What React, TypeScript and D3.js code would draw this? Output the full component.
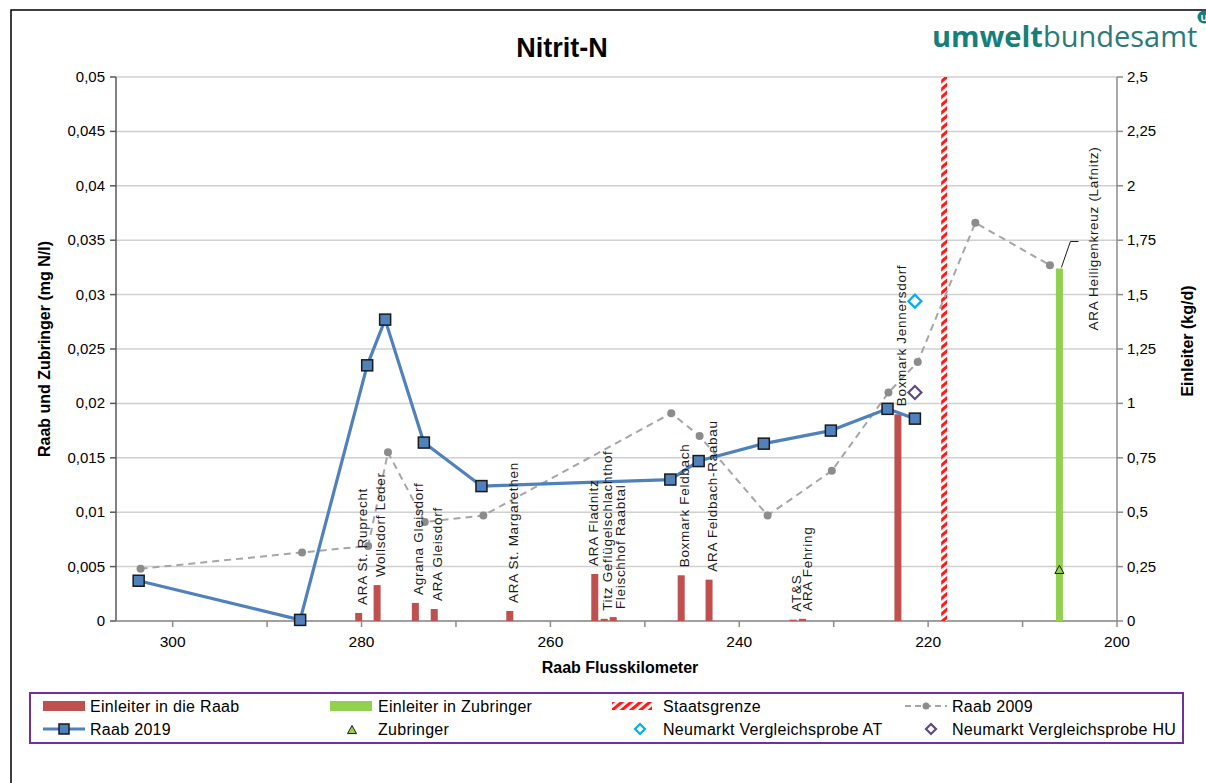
import React from "react";
import * as d3 from "d3";

// Raab 2019 measurements (river km, mg N/l)
const raab2019Km = [303.6, 286.5, 279.4, 277.5, 273.4, 267.3, 247.3, 244.3, 237.4, 230.3, 224.3, 221.4];
const raab2019Val = [0.0037, 0.0001, 0.0235, 0.0277, 0.0164, 0.0124, 0.013, 0.0147, 0.0163, 0.0175, 0.0195, 0.0186];

// Raab 2009 measurements (river km, mg N/l)
const raab2009Km = [303.4, 286.3, 279.3, 277.2, 273.3, 267.1, 247.2, 244.2, 237.0, 230.2, 224.2, 221.1, 215.0, 207.1];
const raab2009Val = [0.0048, 0.0063, 0.0069, 0.0155, 0.0091, 0.0097, 0.0191, 0.017, 0.0097, 0.0138, 0.021, 0.0238, 0.0366, 0.0327];

// Discharges into the Raab (river km, kg/d)
const dischargeNames = [
  "ARA St. Ruprecht",
  "Wollsdorf Leder",
  "Agrana Gleisdorf",
  "ARA Gleisdorf",
  "ARA St. Margarethen",
  "ARA Fladnitz",
  "Titz Geflügelschlachthof",
  "Fleischhof Raabtal",
  "Boxmark Feldbach",
  "ARA Feldbach-Raabau",
  "AT&S",
  "ARA Fehring",
  "Boxmark Jennersdorf",
];
const dischargeKm = [280.3, 278.35, 274.3, 272.3, 264.3, 255.3, 254.3, 253.35, 246.15, 243.2, 234.3, 233.3, 223.2];
const dischargeLoad = [0.037, 0.165, 0.083, 0.055, 0.046, 0.216, 0.01, 0.018, 0.21, 0.19, 0.006, 0.01, 0.95];

// Discharge into a tributary
const tributaryDischargeName = "ARA Heiligenkreuz (Lafnitz)";
const tributaryDischargeKm = 206.1;
const tributaryDischargeLoad = 1.62;

// Tributary concentration (mg N/l)
const tributaryKm = 206.1;
const tributaryVal = 0.0047;

// Neumarkt comparison samples (mg N/l)
const neumarktKm = 221.4;
const neumarktAT = 0.0294;
const neumarktHU = 0.021;

// State border (river km)
const borderKm = 218.3;

const leftTicks = [0, 0.005, 0.01, 0.015, 0.02, 0.025, 0.03, 0.035, 0.04, 0.045, 0.05];
const rightTicks = [0, 0.25, 0.5, 0.75, 1, 1.25, 1.5, 1.75, 2, 2.25, 2.5];
const xMajorTicks = [300, 280, 260, 240, 220, 200];
const xMinorTicks = [300, 290, 280, 270, 260, 250, 240, 230, 220, 210, 200];

const W = 1206;
const H = 783;
const FONT = "'Liberation Sans', Arial, sans-serif";

const fmt = (v: number) => String(v).replace(".", ",");

export default function App() {
  const left = 116;
  const right = 1117;
  const top = 77;
  const bottom = 621;

  const x = d3.scaleLinear().domain([306, 200]).range([left, right]);
  const yL = d3.scaleLinear().domain([0, 0.05]).range([bottom, top]);
  const yR = d3.scaleLinear().domain([0, 2.5]).range([bottom, top]);

  const line2019 = d3
    .line<number>()
    .x((_, i) => x(raab2019Km[i]))
    .y((d) => yL(d));
  const line2009 = d3
    .line<number>()
    .x((_, i) => x(raab2009Km[i]))
    .y((d) => yL(d));

  const barW = 7;
  const labelFs = 13.5;
  const labelLs = 0.7;
  // small horizontal nudges so crowded labels stay readable
  const labelNudge: Record<string, number> = {
    "ARA Fladnitz": -5,
    "Fleischhof Raabtal": 4,
    "ARA Fehring": 2,
  };

  const diamond = (cx: number, cy: number, r: number) =>
    `M${cx},${cy - r}L${cx + r},${cy}L${cx},${cy + r}L${cx - r},${cy}Z`;
  const triangle = (cx: number, cy: number, r: number) =>
    `M${cx},${cy - r}L${cx + r},${cy + r * 0.8}L${cx - r},${cy + r * 0.8}Z`;

  const gbx = x(tributaryDischargeKm);
  const gby = yR(tributaryDischargeLoad);

  // legend layout
  const legCols = [35, 330, 612, 905];
  const legRows = [706, 729];

  return (
    <svg
      width={W}
      height={H}
      style={{ position: "absolute", left: 0, top: 0, background: "#fff" }}
      fontFamily={FONT}
    >
      <defs>
        <pattern id="hatch" width="6" height="6" patternUnits="userSpaceOnUse" patternTransform="rotate(-40)">
          <rect width="6" height="6" fill="#ffffff" />
          <rect width="6" height="3.2" fill="#ff1a1a" />
        </pattern>
      </defs>

      {/* chart frame */}
      <path d={`M11,${H}V10H${W}`} fill="none" stroke="#000" strokeWidth={1.5} />

      {/* title */}
      <text
        x={562}
        y={57}
        textAnchor="middle"
        fontSize={27}
        fontWeight="bold"
        fontFamily="'Liberation Sans Narrow', 'Arial Narrow', 'Liberation Sans', sans-serif"
        fill="#000"
      >
        Nitrit-N
      </text>

      {/* logo */}
      <text x={932} y={47} fontFamily="'Open Sans', sans-serif" fontSize={29} fill="#167f7a">
        <tspan fontWeight="bold">umwelt</tspan>
        <tspan fill="#2b7a76">bundesamt</tspan>
      </text>
      <circle cx={1204} cy={17} r={6.5} fill="#167f7a" />
      <text x={1204} y={20.5} fontSize={9} fontWeight="bold" fill="#fff" textAnchor="middle">
        U
      </text>

      {/* gridlines */}
      {leftTicks.map((t) => (
        <line key={"g" + t} x1={left} x2={right} y1={yL(t)} y2={yL(t)} stroke="#d0d0d0" strokeWidth={1.5} />
      ))}

      {/* axes */}
      <line x1={left} x2={left} y1={top} y2={bottom} stroke="#595959" strokeWidth={1.5} />
      <line x1={right} x2={right} y1={top} y2={bottom} stroke="#8c8c8c" strokeWidth={1.5} />
      <line x1={left} x2={right} y1={bottom} y2={bottom} stroke="#8c8c8c" strokeWidth={1.5} />

      {leftTicks.map((t) => (
        <g key={"l" + t}>
          <line x1={left - 6} x2={left} y1={yL(t)} y2={yL(t)} stroke="#595959" strokeWidth={1.5} />
          <text x={left - 11} y={yL(t) + 5} textAnchor="end" fontSize={15} fill="#000">
            {fmt(t)}
          </text>
        </g>
      ))}
      {rightTicks.map((t) => (
        <g key={"r" + t}>
          <line x1={right} x2={right + 6} y1={yR(t)} y2={yR(t)} stroke="#8c8c8c" strokeWidth={1.5} />
          <text x={right + 10} y={yR(t) + 5} textAnchor="start" fontSize={15} fill="#000">
            {fmt(t)}
          </text>
        </g>
      ))}
      {xMinorTicks.map((t) => (
        <line key={"xt" + t} x1={x(t)} x2={x(t)} y1={bottom} y2={bottom + 6} stroke="#8c8c8c" strokeWidth={1.5} />
      ))}
      {xMajorTicks.map((t) => (
        <text key={"xl" + t} x={x(t)} y={bottom + 26} textAnchor="middle" fontSize={15.5} fill="#000">
          {t}
        </text>
      ))}

      {/* axis titles */}
      <text
        transform={`translate(50,${(top + bottom) / 2}) rotate(-90)`}
        textAnchor="middle"
        fontSize={16}
        fontWeight="bold"
      >
        Raab und Zubringer (mg N/l)
      </text>
      <text
        transform={`translate(1193,${(top + bottom) / 2 - 8}) rotate(-90)`}
        textAnchor="middle"
        fontSize={16}
        fontWeight="bold"
      >
        Einleiter (kg/d)
      </text>
      <text x={620} y={673} textAnchor="middle" fontSize={16} fontWeight="bold">
        Raab Flusskilometer
      </text>

      {/* state border */}
      <rect x={x(borderKm) - 3} y={top} width={6} height={bottom - top} fill="url(#hatch)" />

      {/* discharge bars into the Raab */}
      {dischargeKm.map((km, i) => (
        <rect
          key={"b" + i}
          x={x(km) - barW / 2}
          y={yR(dischargeLoad[i])}
          width={barW}
          height={bottom - yR(dischargeLoad[i])}
          fill="#c0504d"
        />
      ))}

      {/* discharge bar into tributary */}
      <rect x={gbx - barW / 2} y={gby} width={barW} height={bottom - gby} fill="#92d050" />

      {/* Raab 2009 */}
      <path d={line2009(raab2009Val) || ""} fill="none" stroke="#a6a6a6" strokeWidth={2} strokeDasharray="7,5" />
      {raab2009Val.map((v, i) => (
        <circle key={"c" + i} cx={x(raab2009Km[i])} cy={yL(v)} r={4} fill="#8c8c8c" />
      ))}

      {/* Raab 2019 */}
      <path d={line2019(raab2019Val) || ""} fill="none" stroke="#4f81bd" strokeWidth={3.2} strokeLinejoin="round" />
      {raab2019Val.map((v, i) => (
        <rect
          key={"s" + i}
          x={x(raab2019Km[i]) - 5.5}
          y={yL(v) - 5.5}
          width={11}
          height={11}
          fill="#4f81bd"
          stroke="#1a1a1a"
          strokeWidth={1.5}
        />
      ))}

      {/* Neumarkt comparison samples */}
      <path d={diamond(x(neumarktKm), yL(neumarktAT), 6.5)} fill="#fff" stroke="#00b0f0" strokeWidth={2.2} />
      <path d={diamond(x(neumarktKm), yL(neumarktHU), 6.5)} fill="#fff" stroke="#604a7b" strokeWidth={2.2} />

      {/* tributary */}
      <path d={triangle(x(tributaryKm), yL(tributaryVal), 4.5)} fill="#92d050" stroke="#1a1a1a" strokeWidth={1} />

      {/* discharge labels */}
      {dischargeNames.map((name, i) => {
        const cx = x(dischargeKm[i]) + 3 + (labelNudge[name] || 0);
        const sy = yR(dischargeLoad[i]) - 8;
        return (
          <text
            key={"t" + i}
            transform={`translate(${cx + labelFs * 0.36},${sy}) rotate(-90)`}
            fontSize={labelFs}
            letterSpacing={labelLs}
            fill="#1a1a1a"
          >
            {name}
          </text>
        );
      })}

      {/* tributary discharge label with leader */}
      <path d={`M${gbx + 2},${gby - 1}L${gbx + 11},${gby - 27}H${gbx + 19}`} fill="none" stroke="#1a1a1a" strokeWidth={1} />
      <text
        transform={`translate(${gbx + 34 + labelFs * 0.36},${gby + 62}) rotate(-90)`}
        fontSize={labelFs}
        letterSpacing={labelLs}
        fill="#1a1a1a"
      >
        {tributaryDischargeName}
      </text>

      {/* legend */}
      <rect x={30} y={693} width={1153} height={50} fill="#fff" stroke="#7030a0" strokeWidth={2} />
      <g fontSize={16} letterSpacing={0.3} fill="#000">
        {/* row 1 */}
        <rect x={legCols[0] + 8} y={legRows[0] - 5} width={42} height={10} fill="#c0504d" />
        <text x={legCols[0] + 55} y={legRows[0] + 6}>Einleiter in die Raab</text>

        <rect x={legCols[1]} y={legRows[0] - 5} width={42} height={10} fill="#92d050" />
        <text x={legCols[1] + 48} y={legRows[0] + 6}>Einleiter in Zubringer</text>

        <rect x={legCols[2]} y={legRows[0] - 4} width={40} height={8} fill="url(#hatch)" />
        <text x={legCols[2] + 51} y={legRows[0] + 6}>Staatsgrenze</text>

        <line x1={legCols[3]} x2={legCols[3] + 42} y1={legRows[0]} y2={legRows[0]} stroke="#a6a6a6" strokeWidth={2} strokeDasharray="6,4" />
        <circle cx={legCols[3] + 21} cy={legRows[0]} r={3.5} fill="#8c8c8c" />
        <text x={legCols[3] + 47} y={legRows[0] + 6}>Raab 2009</text>

        {/* row 2 */}
        <line x1={legCols[0] + 8} x2={legCols[0] + 50} y1={legRows[1]} y2={legRows[1]} stroke="#4f81bd" strokeWidth={3.2} />
        <rect x={legCols[0] + 24} y={legRows[1] - 5} width={10} height={10} fill="#4f81bd" stroke="#1a1a1a" strokeWidth={1.5} />
        <text x={legCols[0] + 55} y={legRows[1] + 6}>Raab 2019</text>

        <path d={triangle(legCols[1] + 22, legRows[1] + 1, 4.5)} fill="#92d050" stroke="#1a1a1a" strokeWidth={1} />
        <text x={legCols[1] + 48} y={legRows[1] + 6}>Zubringer</text>

        <path d={diamond(legCols[2] + 28, legRows[1], 5)} fill="#fff" stroke="#00b0f0" strokeWidth={2.2} />
        <text x={legCols[2] + 51} y={legRows[1] + 6}>Neumarkt Vergleichsprobe AT</text>

        <path d={diamond(legCols[3] + 26, legRows[1], 5)} fill="#fff" stroke="#604a7b" strokeWidth={2.2} />
        <text x={legCols[3] + 47} y={legRows[1] + 6}>Neumarkt Vergleichsprobe HU</text>
      </g>
    </svg>
  );
}
